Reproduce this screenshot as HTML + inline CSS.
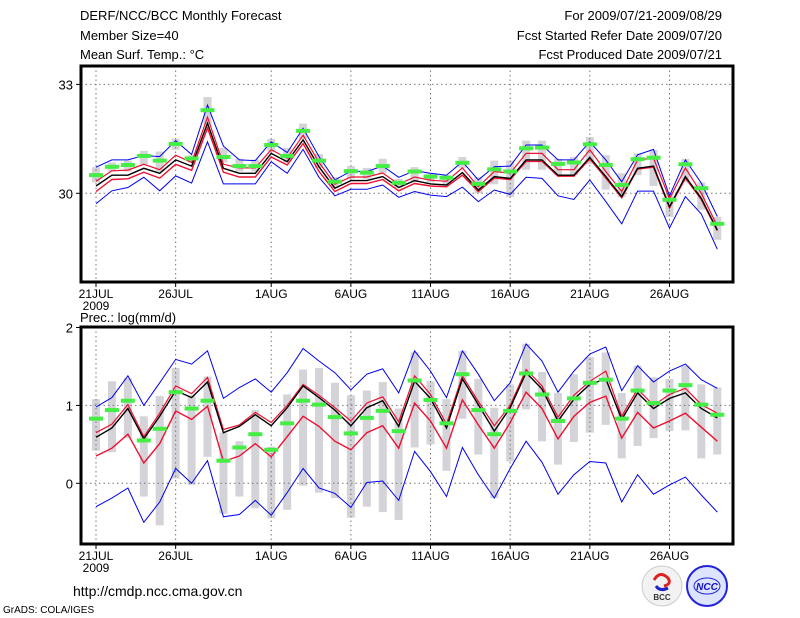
<!DOCTYPE html>
<html><head><meta charset="utf-8"><style>
html,body{margin:0;padding:0;background:#fff;}
svg{display:block;font-family:"Liberation Sans","DejaVu Sans",sans-serif;}
</style></head><body>
<svg id="chart" width="800" height="618" viewBox="0 0 800 618" xmlns="http://www.w3.org/2000/svg">
<rect x="0" y="0" width="800" height="618" fill="#fff"/>
<g font-size="13" fill="#000">
<text x="80" y="20">DERF/NCC/BCC Monthly Forecast</text>
<text x="80" y="40">Member Size=40</text>
<text x="80" y="59">Mean Surf. Temp.: °C</text>
<text x="722" y="20" text-anchor="end">For 2009/07/21-2009/08/29</text>
<text x="722" y="40" text-anchor="end">Fcst Started Refer Date 2009/07/20</text>
<text x="722" y="59" text-anchor="end">Fcst Produced Date 2009/07/21</text>
</g>
<text x="80" y="322" font-size="13">Prec.: log(mm/d)</text>
<g id="topPanel"></g>
<g id="botPanel"></g>
<text x="73" y="596" font-size="14">http://cmdp.ncc.cma.gov.cn</text>
<text x="3" y="613" font-size="10">GrADS: COLA/IGES</text>
<g>
<circle cx="662" cy="586" r="20" fill="#f2f2f2" stroke="#ccc"/>
<path d="M654 580 q6 -10 14 -2 q4 6 -4 8" fill="none" stroke="#d22" stroke-width="3"/>
<path d="M656 586 q4 6 12 2" fill="none" stroke="#22c" stroke-width="3"/>
<text x="662" y="600" font-size="8" font-weight="bold" text-anchor="middle" fill="#333">BCC</text>
</g>
<g>
<circle cx="707" cy="586" r="20" fill="#dde4ff" stroke="#22d" stroke-width="2"/>
<ellipse cx="707" cy="586" rx="13" ry="8" fill="none" stroke="#22d"/>
<text x="707" y="590" font-size="10" font-style="italic" font-weight="bold" text-anchor="middle" fill="#11c">NCC</text>
</g>
</svg>
<script>
const days = 40;
const tickLabels = ["21JUL","26JUL","1AUG","6AUG","11AUG","16AUG","21AUG","26AUG"];
const tickDays = [0,5,11,16,21,26,31,36];

const tBlueHi = [30.72,30.92,30.92,31.04,31.01,31.45,31.07,32.43,31.3,30.92,30.9,31.42,31.12,31.79,31.01,30.37,30.61,30.6,30.75,30.44,30.62,30.55,30.5,30.87,30.37,30.73,30.75,31.33,31.33,30.92,30.92,31.42,30.92,30.32,31.06,31.21,29.93,30.92,30.28,29.36];
const tBlueLo = [29.71,30.07,30.16,30.44,30.07,30.48,30.28,31.42,30.26,30.26,30.26,30.87,30.55,31.21,30.44,29.93,30.11,30.11,30.23,29.89,30.05,29.95,29.91,30.17,29.77,30.09,29.97,30.44,30.41,29.93,29.83,30.37,29.77,29.16,30.06,30.06,29.04,29.91,29.43,28.46];
const tMean = [30.2,30.5,30.5,30.69,30.55,30.92,30.75,31.93,30.69,30.55,30.55,31.1,30.87,31.47,30.73,30.14,30.35,30.35,30.46,30.16,30.35,30.26,30.23,30.57,30.09,30.46,30.41,30.92,30.92,30.5,30.5,30.99,30.46,29.91,30.69,30.75,29.63,30.46,29.86,28.99];
const tRedHi = [30.33,30.62,30.64,30.8,30.65,31.05,30.85,32.1,30.8,30.7,30.7,31.2,30.97,31.6,30.85,30.25,30.45,30.45,30.56,30.25,30.45,30.36,30.33,30.7,30.18,30.6,30.55,31.1,31.1,30.65,30.65,31.2,30.6,30.05,30.92,30.97,29.85,30.7,30.0,29.1];
const tRedLo = [30.05,30.38,30.4,30.58,30.42,30.8,30.63,31.8,30.58,30.45,30.45,31.0,30.78,31.37,30.6,30.05,30.27,30.27,30.38,30.07,30.27,30.2,30.18,30.5,30.05,30.42,30.38,30.88,30.88,30.47,30.47,30.95,30.42,29.88,30.67,30.72,29.6,30.42,29.83,28.97];
const tGreen = [30.5,30.73,30.78,31.03,30.9,31.36,30.96,32.29,31.0,30.75,30.75,31.33,31.03,31.72,30.9,30.32,30.61,30.57,30.75,30.29,30.6,30.46,30.43,30.84,30.26,30.66,30.6,31.24,31.26,30.81,30.85,31.35,30.78,30.23,30.94,30.98,29.82,30.8,30.14,29.16];
const tBarHi = [30.72,30.85,30.9,31.17,31.15,31.5,31.05,32.65,31.25,30.95,30.93,31.5,31.25,31.92,31.08,30.45,30.75,30.7,30.95,30.4,30.72,30.55,30.5,31.0,30.45,30.9,30.9,31.45,31.45,30.95,31.0,31.55,31.05,30.55,31.1,31.2,30.0,30.95,30.3,29.35];
const tBarLo = [30.3,30.6,30.6,30.8,30.6,31.2,30.85,31.9,30.85,30.6,30.6,31.15,30.85,31.5,30.7,30.15,30.4,30.4,30.55,30.15,30.3,30.3,30.25,30.7,30.0,30.25,29.9,30.65,30.65,30.5,30.5,30.8,30.1,29.9,30.5,30.2,29.35,30.3,29.55,28.72];
const tYTicks = [30,33];

const pBlueHi = [0.98,1.1,1.38,1.0,1.29,1.59,1.53,1.7,1.09,1.23,1.34,1.17,1.42,1.73,1.57,1.42,1.2,1.4,1.47,1.16,1.7,1.44,1.1,1.7,1.4,1.06,1.29,1.79,1.57,1.17,1.44,1.66,1.75,1.19,1.51,1.3,1.44,1.53,1.33,1.22];
const pBlueLo = [-0.3,-0.19,-0.06,-0.5,-0.24,0.19,0,0.29,-0.43,-0.4,-0.22,-0.41,-0.12,0.19,-0.06,-0.13,-0.31,0.01,0.03,-0.22,0.41,0.15,-0.17,0.46,0.11,-0.19,0.19,0.54,0.27,-0.14,0.11,0.28,0.26,-0.24,0.11,-0.14,-0.02,0.08,-0.15,-0.37];
const pMean = [0.59,0.71,0.96,0.57,0.86,1.19,1.1,1.3,0.65,0.73,0.88,0.74,0.97,1.25,1.1,0.94,0.74,0.97,1.06,0.73,1.31,1.09,0.71,1.34,1.01,0.67,0.97,1.42,1.21,0.8,1.08,1.27,1.34,0.82,1.16,0.96,1.09,1.16,0.96,0.84];
const pRedHi = [0.65,0.76,1.01,0.6,0.9,1.25,1.15,1.36,0.69,0.75,0.91,0.78,1.0,1.27,1.13,0.97,0.8,1.03,1.11,0.79,1.38,1.14,0.76,1.38,1.05,0.74,1.0,1.46,1.25,0.85,1.13,1.31,1.44,0.86,1.21,1.0,1.14,1.22,1.01,0.9];
const pRedLo = [0.35,0.45,0.63,0.26,0.51,0.93,0.82,0.99,0.28,0.35,0.51,0.34,0.6,0.86,0.73,0.54,0.43,0.65,0.74,0.45,1.03,0.8,0.45,1.07,0.75,0.45,0.78,1.17,0.96,0.57,0.86,1.04,1.12,0.58,0.91,0.71,0.8,0.9,0.72,0.54];
const pGreen = [0.83,0.94,1.06,0.55,0.7,1.17,0.96,1.06,0.29,0.46,0.63,0.43,0.77,1.06,1.01,0.85,0.64,0.84,0.93,0.67,1.32,1.07,0.77,1.4,0.94,0.63,0.93,1.41,1.14,0.8,1.09,1.29,1.33,0.83,1.19,1.03,1.19,1.26,1.01,0.88];
const pBarHi = [1.08,1.31,1.35,0.86,1.12,1.48,1.13,1.37,0.65,0.54,0.94,0.47,1.14,1.46,1.48,1.29,1.13,1.19,1.3,0.96,1.68,1.31,1.08,1.7,1.34,0.97,1.27,1.79,1.43,1.16,1.4,1.62,1.68,1.16,1.51,1.36,1.34,1.51,1.27,1.23];
const pBarLo = [0.42,0.4,0.58,-0.17,-0.54,0.06,-0.02,0.34,-0.39,-0.17,-0.32,-0.45,-0.34,-0.03,-0.12,-0.19,-0.44,-0.3,-0.37,-0.47,0.46,0.5,0.16,0.83,0.37,-0.19,0.28,0.95,0.54,0.24,0.53,0.65,0.75,0.32,0.48,0.58,0.67,0.68,0.32,0.37];
const pYTicks = [0,1,2];

const NS = "http://www.w3.org/2000/svg";
const X0 = 96, DX = 15.93;
function xs(i){ return X0 + i*DX; }
function mk(parent, tag, attrs){
  const e = document.createElementNS(NS, tag);
  for (const k in attrs) e.setAttribute(k, attrs[k]);
  parent.appendChild(e); return e;
}

function panel(g, box, ys, yTicks, series){
  const [L,T,R,B] = box;
  for (let i=0;i<days;i++){
    const y1 = ys(series.barHi[i]), y2 = ys(series.barLo[i]);
    const r = mk(g,'rect',{x:xs(i)-4,y:Math.min(y1,y2),width:8,height:Math.abs(y2-y1),fill:'#d3d3d8'});
    
    
  }
  for (const d of tickDays){
    const l = mk(g,'line',{x1:xs(d),x2:xs(d),y1:T,y2:B,stroke:'#777','stroke-dasharray':'1.5,3','stroke-width':1});
    
    
  }
  for (const v of yTicks){
    const y = ys(v);
    if (y > T+1){
      const l = mk(g,'line',{x1:L,x2:R,y1:y,y2:y,stroke:'#777','stroke-dasharray':'1.5,3','stroke-width':1});
      
      
    }
    mk(g,'line',{x1:L-5,x2:L,y1:y,y2:y,stroke:'#000'});
    const t = mk(g,'text',{x:L-8,y:y+5,'font-size':13,'text-anchor':'end'});
    t.textContent = v;
    
    
  }
  const line = (arr, color, w, name) => {
    const p = mk(g,'polyline',{points:arr.map((v,i)=>xs(i).toFixed(1)+','+ys(v).toFixed(1)).join(' '),fill:'none',stroke:color,'stroke-width':w});
    
    
  };
  line(series.blueHi,'#0000ee',1,'upper-bound-line');
  line(series.blueLo,'#0000ee',1,'lower-bound-line');
  line(series.redLo,'#ee1030',1.4,'lower-quartile-line');
  line(series.redHi,'#ee1030',1.2,'upper-quartile-line');
  line(series.mean,'#000',1.4,'ensemble-mean-line');
  for (let i=0;i<days;i++){
    const y = ys(series.green[i]);
    const r = mk(g,'rect',{x:xs(i)-7,y:y-2,width:14,height:4,fill:'#44ee44'});
    
    
  }
  const f = mk(g,'rect',{x:L,y:T,width:R-L,height:B-T,fill:'none',stroke:'#000','stroke-width':3});
  
  
  tickDays.forEach((d,k)=>{
    mk(g,'line',{x1:xs(d),x2:xs(d),y1:B,y2:B+5,stroke:'#000'});
    const t = mk(g,'text',{x:xs(d),y:B+16,'font-size':12,'text-anchor':'middle'});
    t.textContent = tickLabels[k];
    
    
  });
  const yr = mk(g,'text',{x:xs(0),y:B+28,'font-size':12,'text-anchor':'middle'});
  yr.textContent = '2009';
  
  
}

const topG = document.getElementById('topPanel');
panel(topG,[81,66,733,282], v => 193.3 - (v-30)*36.3, tYTicks,
  {blueHi:tBlueHi,blueLo:tBlueLo,mean:tMean,redHi:tRedHi,redLo:tRedLo,green:tGreen,barHi:tBarHi,barLo:tBarLo});
const botG = document.getElementById('botPanel');
panel(botG,[81,327,733,544], v => 483.3 - v*77.9, pYTicks,
  {blueHi:pBlueHi,blueLo:pBlueLo,mean:pMean,redHi:pRedHi,redLo:pRedLo,green:pGreen,barHi:pBarHi,barLo:pBarLo});
</script>
</body></html>
